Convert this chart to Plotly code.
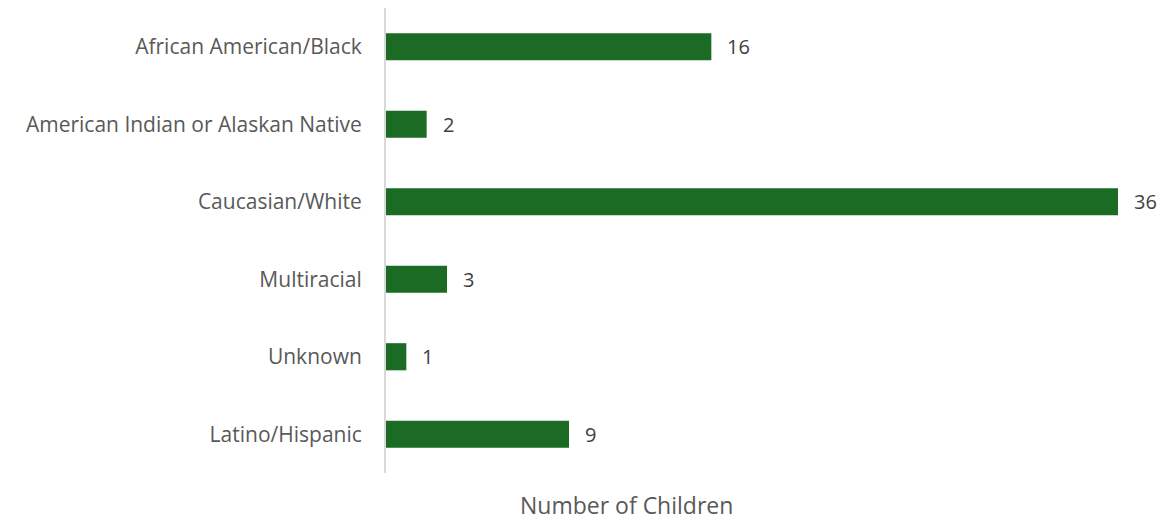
import plotly.graph_objects as go

categories = [
    "African American/Black",
    "American Indian or Alaskan Native",
    "Caucasian/White",
    "Multiracial",
    "Unknown",
    "Latino/Hispanic",
]
children = [16, 2, 36, 3, 1, 9]

bar_color = "#1b6b24"
font_family = "Open Sans, Lato, sans-serif"

fig = go.Figure(
    go.Bar(
        y=categories,
        x=children,
        orientation="h",
        marker=dict(color=bar_color, line=dict(width=0)),
        width=0.35,
        hoverinfo="x+y",
    )
)

# value labels to the right of each bar
for cat, val in zip(categories, children):
    fig.add_annotation(
        x=val, y=cat, xref="x", yref="y",
        text=str(val), showarrow=False,
        xanchor="left", xshift=14,
        font=dict(family=font_family, size=20, color="#404040"),
    )

fig.add_annotation(
    x=0.328, y=-50 / 465, xref="paper", yref="paper",
    text="Number of Children", showarrow=False,
    xanchor="center", yanchor="bottom",
    font=dict(family=font_family, size=23, color="#595959"),
)

fig.update_layout(
    width=1167, height=523,
    margin=dict(l=386, r=49, t=8, b=50),
    paper_bgcolor="white", plot_bgcolor="white",
    showlegend=False,
    xaxis=dict(range=[0, 36], visible=False, fixedrange=True),
    yaxis=dict(
        autorange="reversed",
        showline=True, linecolor="#d9d9d9", linewidth=2,
        showgrid=False, zeroline=False,
        ticks="", ticklabelstandoff=18,
        tickfont=dict(family=font_family, size=21, color="#595959"),
        fixedrange=True,
    ),
)

fig.write_html("out.html")
